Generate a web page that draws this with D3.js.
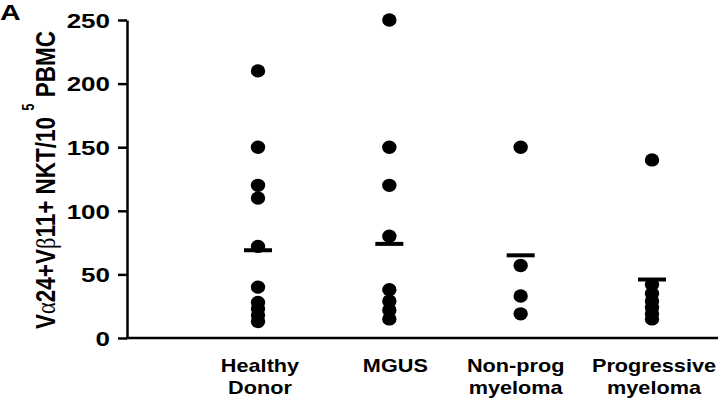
<!DOCTYPE html>
<html>
<head>
<meta charset="utf-8">
<script src="https://cdn.jsdelivr.net/npm/d3@7"></script>
<style>
  html, body { margin: 0; padding: 0; background: #fff; }
  svg { display: block; }
  text { font-family: "Liberation Sans", Arial, sans-serif; font-weight: bold; fill: #000; }
</style>
</head>
<body>
<svg id="chart" width="720" height="406"></svg>
<script>
// ---- data ----
const categories = ["Healthy Donor", "MGUS", "Non-prog myeloma", "Progressive myeloma"];
const categoryLines = [["Healthy", "Donor"], ["MGUS"], ["Non-prog", "myeloma"], ["Progressive", "myeloma"]];
const healthyDonor = [210, 150, 120, 110, 72, 40, 28, 23, 18, 13];
const mgus = [250, 150, 120, 80, 38, 29, 22, 15];
const nonProgMyeloma = [150, 57, 33, 19];
const progressiveMyeloma = [140, 42, 35, 29, 24, 19, 15];
const groupMeans = [69, 74, 65, 46];
const yTicks = [0, 50, 100, 150, 200, 250];
const panelLetter = "A";

// ---- layout ----
const W = 720, H = 406;
const axisX = 127, yTop = 20, yBottom = 338;
const stretch = 1.29;
const labelShift = [2, 6, -5, 2];

const svg = d3.select("#chart");

const x = d3.scalePoint().domain(categories).range([258, 652]);
const y = d3.scaleLinear().domain([0, 250]).range([yBottom, yTop]);

const groups = [healthyDonor, mgus, nonProgMyeloma, progressiveMyeloma];

// y axis
const yAxis = svg.append("g")
  .attr("transform", `translate(${axisX},0)`)
  .call(d3.axisLeft(y).tickValues(yTicks).tickSize(9).tickSizeOuter(0));
yAxis.select(".domain").attr("stroke", "#000").attr("stroke-width", 2.5);
yAxis.selectAll(".tick line").attr("stroke", "#000").attr("stroke-width", 2.5);
yAxis.selectAll(".tick text")
  .attr("x", 0)
  .attr("dy", "0.36em")
  .attr("transform", `translate(-17,0) scale(1.3,1)`)
  .style("font-size", "20px")
  .style("font-family", "'Liberation Sans', Arial, sans-serif")
  .style("font-weight", "bold")
  .attr("fill", "#000");

// x axis line
svg.append("line")
  .attr("x1", axisX - 1).attr("x2", W - 2)
  .attr("y1", y(0)).attr("y2", y(0))
  .attr("stroke", "#000").attr("stroke-width", 2.5);

// points
groups.forEach((vals, i) => {
  svg.append("g").selectAll("ellipse")
    .data(vals)
    .join("ellipse")
    .attr("cx", x(categories[i]))
    .attr("cy", d => y(d))
    .attr("rx", 7.2)
    .attr("ry", 6.7)
    .attr("fill", "#000");
});

// mean lines
svg.append("g").selectAll("line")
  .data(groupMeans)
  .join("line")
  .attr("x1", (d, i) => x(categories[i]) - 14)
  .attr("x2", (d, i) => x(categories[i]) + 14)
  .attr("y1", d => y(d))
  .attr("y2", d => y(d))
  .attr("stroke", "#000")
  .attr("stroke-width", 4);

// category labels
categoryLines.forEach((lines, i) => {
  lines.forEach((t, j) => {
    svg.append("text")
      .attr("transform", `translate(${x(categories[i]) + labelShift[i]},${372 + j * 22}) scale(${stretch * 0.96},1)`)
      .attr("text-anchor", "middle")
      .style("font-size", "17.5px")
      .text(t);
  });
});

// y title
const yt = svg.append("text")
  .attr("transform", `translate(55,180) scale(1.24,1) rotate(-90)`)
  .attr("text-anchor", "middle")
  .style("font-size", "22.5px");
yt.append("tspan").text("V");
yt.append("tspan").style("font-family", "'Liberation Serif', 'DejaVu Serif', serif").style("font-weight", "normal").text("α");
yt.append("tspan").text("24+V");
yt.append("tspan").style("font-family", "'Liberation Serif', 'DejaVu Serif', serif").style("font-weight", "normal").text("β");
yt.append("tspan").text("11+ NKT/10 ");
yt.append("tspan").attr("dy", -17).style("font-size", "13px").text("5");
yt.append("tspan").attr("dy", 17).text(" PBMC");

// panel letter
svg.append("text")
  .attr("transform", `translate(0,20) scale(1.3,1)`)
  .style("font-size", "22px")
  .text(panelLetter);
</script>
</body>
</html>
